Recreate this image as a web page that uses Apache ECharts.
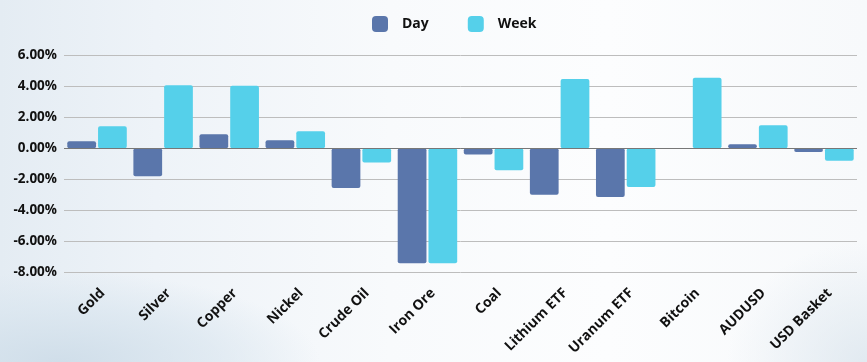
<!DOCTYPE html>
<html>
<head>
<meta charset="utf-8">
<script src="https://cdn.jsdelivr.net/npm/echarts@6/dist/echarts.min.js"></script>
<style>
html,body{margin:0;padding:0;}
body{
  background:
    radial-gradient(ellipse 260px 90px at 60px 362px, rgba(205,220,232,0.9) 0%, rgba(215,228,238,0.6) 60%, rgba(230,238,245,0) 100%),
    radial-gradient(ellipse 140px 120px at 867px 362px, rgba(220,230,238,0.8) 0%, rgba(235,241,246,0) 100%),
    linear-gradient(90deg, #e4ecf3 0%, #eef3f8 18%, #f8fafc 45%, #fcfdfe 70%, #f7f9fb 100%);
}
#c{width:867px;height:362px;}
</style>
</head>
<body>
<div id="c"></div>
<script>
const categories = ['Gold','Silver','Copper','Nickel','Crude Oil','Iron Ore','Coal','Lithium ETF','Uranum ETF','Bitcoin','AUDUSD','USD Basket'];
const dayValues = [0.45, -1.80, 0.90, 0.52, -2.56, -7.40, -0.40, -2.99, -3.14, -0.03, 0.26, -0.24];
const weekValues = [1.42, 4.06, 4.02, 1.10, -0.92, -7.40, -1.42, 4.45, -2.50, 4.54, 1.48, -0.80];
const yTicks = [-8, -6, -4, -2, 0, 2, 4, 6];

const FONT = 'Open Sans';
const chart = echarts.init(document.getElementById('c'), null, {renderer:'canvas'});
chart.setOption({
  backgroundColor: 'transparent',
  animation: false,
  legend: {
    top: 16, left: 372, padding: 0,
    itemWidth: 16, itemHeight: 16, itemGap: 39,
    icon: 'roundRect',
    textStyle: {fontFamily: FONT, fontWeight: 700, fontSize: 14, color: '#111', padding:[0,0,0,9]},
    data: ['Day','Week']
  },
  grid: {left: 64, right: 10, top: 55, bottom: 89.5, containLabel: false},
  xAxis: {
    type: 'category', data: categories,
    axisLine: {show: false}, axisTick: {show: false},
    axisLabel: {rotate: 45, margin: 24, interval: 0, padding: [0,-8,0,0],
      fontFamily: FONT, fontWeight: 700, fontSize: 14, color: '#111'}
  },
  yAxis: {
    type: 'value', min: yTicks[0], max: yTicks[yTicks.length-1], interval: 2,
    axisLine: {show: false}, axisTick: {show: false},
    axisLabel: {margin: 7, fontFamily: FONT, fontWeight: 700, fontSize: 13.5, color: '#111',
      formatter: v => v.toFixed(2) + '%'},
    splitLine: {lineStyle: {color: '#bdbdbd', width: 1}}
  },
  series: [
    {name: 'Day', type: 'bar', data: dayValues, barGap: '7%', barCategoryGap: '10%',
      itemStyle: {color: '#5a76ab', borderRadius: 2},
      markLine: {silent: true, symbol: 'none', label: {show:false}, lineStyle: {color:'#777', type:'solid', width:1}, data:[{yAxis:0}]}},
    {name: 'Week', type: 'bar', data: weekValues,
      itemStyle: {color: '#55d0ea', borderRadius: 2}}
  ]
});
</script>
</body>
</html>
